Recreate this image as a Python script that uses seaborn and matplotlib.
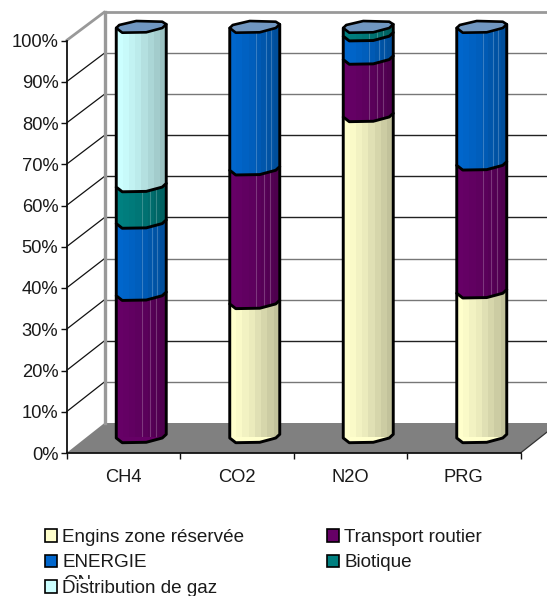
import matplotlib
matplotlib.use("Agg")
import matplotlib.pyplot as plt
import matplotlib.patches as mpatches
from matplotlib.lines import Line2D
from matplotlib.transforms import IdentityTransform
import numpy as np
import pandas as pd
import seaborn as sns

# Emission shares per pollutant (percent of the total)
categories = ["CH4", "CO2", "N2O", "PRG"]
engins = [0, 32.7, 78.3, 35.3]
transport = [34.7, 32.6, 14.0, 31.2]
energie = [17.6, 34.7, 5.7, 33.5]
biotique = [8.9, 0, 2.0, 0]
distribution = [38.8, 0, 0, 0]

series_names = ["Engins zone réservée", "Transport routier", "ENERGIE", "Biotique", "Distribution de gaz"]
series_values = [engins, transport, energie, biotique, distribution]
series_colors = ["#FFFFCC", "#660066", "#0066CC", "#008080", "#CCFFFF"]
percent_ticks = list(range(0, 101, 10))
percent_labels = [f"{v}%" for v in percent_ticks]

sns.set_theme(style="white")
plt.rcParams["font.family"] = ["Liberation Sans", "DejaVu Sans"]

W, H = 547, 596
fig = plt.figure(figsize=(W / 100, H / 100), dpi=100, facecolor="white")
FONT = 13.2
TEXT = "#1a1a1a"


def px_axes(x0, x1, ytop, ybot, z):
    """Axes placed by pixel edges measured from the top-left corner."""
    a = fig.add_axes([x0 / W, 1 - ybot / H, (x1 - x0) / W, (ybot - ytop) / H], zorder=z)
    a.patch.set_alpha(0)
    a.set_ylim(0, 100)
    a.set_xlim(-0.5, 3.5)
    return a


# Back wall and floor of the 3D box
ax_wall = px_axes(104.5, 558.5, 12, 423, 1)
ax = px_axes(66.5, 520.5, 40.5, 453, 2)
ax_bars = px_axes(84.5, 538.5, 27, 437, 3)
identity = IdentityTransform()

ax_wall.set_axis_off()
grid_colors = {10: "#777777", 20: "#222222", 30: "#777777", 40: "#777777", 50: "#222222",
               60: "#222222", 70: "#222222", 80: "#777777", 90: "#777777", 100: "#999999"}
for v in percent_ticks[1:]:
    ax_wall.plot([-0.5, 3.5], [v, v], color=grid_colors[v], lw=2.0 if v == 100 else 1.0,
                 clip_on=False, solid_capstyle="butt")
    p0 = ax.transData.transform((-0.5, v))
    p1 = ax_wall.transData.transform((-0.5, v))
    ax_wall.add_line(Line2D([p0[0], p1[0]], [p0[1], p1[1]], color="#999999" if v == 100 else "#111111",
                            lw=2.0 if v == 100 else 0.9, transform=identity, clip_on=False))
ax_wall.plot([-0.5, -0.5], [0, 100], color="#999999", lw=2.4, clip_on=False, solid_capstyle="projecting")

corner = [ax.transData.transform((-0.5, 0)), ax.transData.transform((3.5, 0)),
          ax_wall.transData.transform((3.5, 0)), ax_wall.transData.transform((-0.5, 0))]
ax_wall.add_patch(mpatches.Polygon(corner, closed=True, facecolor="#808080", edgecolor="none",
                                   transform=identity, clip_on=False))
ax_wall.add_line(Line2D([corner[1][0], corner[2][0]], [corner[1][1], corner[2][1]], color="#333333",
                        lw=0.9, transform=identity, clip_on=False))

# Front axes: percent scale and category ticks
sns.despine(ax=ax, top=True, right=True)
for side in ("left", "bottom"):
    ax.spines[side].set_color("#111111")
    ax.spines[side].set_linewidth(1.3)
ax.set_yticks(percent_ticks, percent_labels, fontsize=FONT, color=TEXT)
ax.set_xticks([-0.5, 0.5, 1.5, 2.5, 3.5], [""] * 5)
ax.set_xticks(range(len(categories)), categories, minor=True, fontsize=FONT, color=TEXT)
ax.tick_params(axis="y", left=True, length=4.3, width=1, color="#111111", pad=1.5)
ax.tick_params(axis="x", which="major", bottom=True, length=4.5, width=1, color="#111111")
ax.tick_params(axis="x", which="minor", bottom=False, pad=7.3)
ax.set_xlabel("")
ax.set_ylabel("")

# Stacked columns
frame = pd.DataFrame({"category": categories})
bottoms = np.zeros(len(categories))
containers = []
for name, values, color in zip(series_names, series_values, series_colors):
    frame[name] = values
    sns.barplot(data=frame, x="category", y=name, order=categories, color=color, saturation=1,
                width=0.44, bottom=bottoms, ax=ax_bars, linewidth=0)
    containers.append((ax_bars.containers[-1], color))
    bottoms = bottoms + np.array(values)
ax_bars.set_ylim(0, 100)
ax_bars.set_xlim(-0.5, 3.5)
ax_bars.set_axis_off()

# Outline of the slightly irregular column section, in pixels around its centre (y up)
front_arc = np.array([(-25, -1), (-19, -5.7), (5, -5.3), (21, -1), (25, 2.7)], dtype=float)
back_arc = np.array([(25, 2.7), (21, 5.3), (-5, 6), (-22, 2), (-25, -1)], dtype=float)
band_shades = np.array([1.0, 0.98, 0.95, 0.92, 0.88, 0.84, 0.80, 0.76])
highlights = {"#660066": [1, 9, 15], "#0066CC": [1, 11, 16], "#008080": [1, 9, 15]}
CAP = "#7096C0"
z = 5
for container, color in containers:
    rgb = np.array(matplotlib.colors.to_rgb(color))
    for rect in container.patches:
        if rect.get_height() <= 0:
            rect.set_visible(False)
            continue
        xc = rect.get_x() + rect.get_width() / 2
        low = ax_bars.transData.transform((xc, rect.get_y()))
        high = ax_bars.transData.transform((xc, rect.get_y() + rect.get_height()))
        outline = np.vstack([front_arc + low, front_arc[::-1] + high])
        body = mpatches.Polygon(outline, closed=True, facecolor=color, edgecolor="none",
                                transform=identity, clip_on=False, zorder=z)
        ax_bars.add_patch(body)
        rect.set_zorder(z + 0.1)
        rect.set_clip_path(body)
        for k, shade in enumerate(band_shades):
            x0 = low[0] - 25 + k * 50 / len(band_shades)
            band = mpatches.Rectangle((x0, low[1] - 10), 50 / len(band_shades) + 0.3,
                                      high[1] - low[1] + 20, facecolor=rgb * shade, edgecolor="none",
                                      transform=identity, zorder=z + 0.2)
            ax_bars.add_patch(band)
            band.set_clip_path(body)
        for off in highlights.get(color, []):
            glint = Line2D([low[0] + off] * 2, [low[1] - 10, high[1] + 10], color="white", alpha=0.22,
                           lw=0.8, transform=identity, zorder=z + 0.3)
            ax_bars.add_line(glint)
            glint.set_clip_path(body)
        edge = np.vstack([[(-25, -1) + high], [(-25, -1) + low], front_arc[1:] + low, [(25, 2.7) + high]])
        ax_bars.add_line(Line2D(edge[:, 0], edge[:, 1], color="black", lw=2.1, solid_joinstyle="round",
                                transform=identity, clip_on=False, zorder=z + 0.4))
        z += 1

# Top caps of the columns
for i in range(len(categories)):
    centre = ax_bars.transData.transform((i, bottoms[i]))
    cap = np.vstack([front_arc + centre, back_arc[1:-1] + centre])
    ax_bars.add_patch(mpatches.Polygon(cap, closed=True, facecolor=CAP, edgecolor="black", lw=1.9,
                                       joinstyle="round", transform=identity, clip_on=False, zorder=z + 1))

# Legend below the chart
LEGEND_FONT = 13.55
handles = [mpatches.Patch(facecolor=c, edgecolor="black", lw=1.2) for c in series_colors]
order = [0, 2, 4, 1, 3]
fig.legend([handles[i] for i in order], [series_names[i] for i in order], ncol=2, frameon=False,
           fontsize=LEGEND_FONT, labelcolor=TEXT, loc="upper left", bbox_to_anchor=(45 / W, 1 - 529 / H),
           borderpad=0, borderaxespad=0, handlelength=0.65, handleheight=0.65, handletextpad=0.26,
           columnspacing=4.4, labelspacing=0.45)

# Stray label cut off by the legend's last row
stray = fig.text(63 / W, 1 - 587.5 / H, "ON", fontsize=LEGEND_FONT, color=TEXT)
stray.set_clip_path(mpatches.Rectangle((0, H - 578.5), W, 30, transform=identity))
stray.set_clip_on(True)

fig.savefig("out.png", dpi=100, facecolor="white")
